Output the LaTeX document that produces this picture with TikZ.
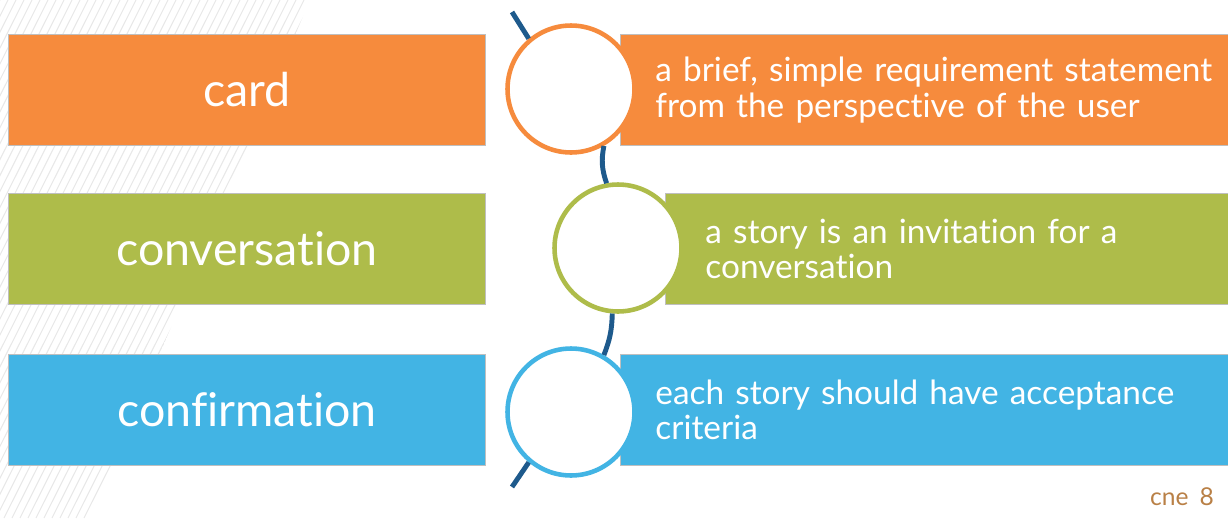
\documentclass[tikz,border=0pt]{standalone}
\usepackage{fontspec}
\setmainfont{Lato}[Ligatures=NoCommon]
\usetikzlibrary{positioning}
\definecolor{cardorange}{RGB}{246,139,61}
\definecolor{talkgreen}{RGB}{174,188,74}
\definecolor{checkblue}{RGB}{66,180,228}
\definecolor{linkblue}{RGB}{30,90,140}

\begin{document}
\begin{tikzpicture}[
  x=0.02cm, y=-0.02cm,
  namebox/.style={rectangle, draw=black!25, line width=0.5pt, minimum width=9.54cm, minimum height=2.22cm, text=white, font=\fontsize{26.5}{30}\selectfont},
  notebox/.style={rectangle, draw=black!25, line width=0.5pt, anchor=west, minimum height=2.22cm, text=white, align=left, font=\fontsize{19}{20}\selectfont, inner xsep=0.7cm, text width=11.8cm},
  ring/.style={circle, draw, line width=2.6pt, fill=white, minimum size=2.54cm, inner sep=0pt},
  link/.style={draw=linkblue, line width=2.8pt}
]
  \clip (0,0) rectangle (1228,518);

  % faint hatching behind the left column
  \begin{scope}
    \clip (0,0) -- (310,0) -- (90,518) -- (0,518) -- cycle;
    \foreach \i in {-300,-292,...,320}
      \draw[black!9, line width=0.6pt] (\i,518) -- (\i+260,0);
  \end{scope}

  \node[namebox, fill=cardorange] (card) at (247,90)  {card};
  \node[namebox, fill=talkgreen]  (talk) at (247,249) {conversation};
  \node[namebox, fill=checkblue]  (conf) at (247,410) {confirmation};

  \node[notebox, fill=cardorange] (cardnote) at (620,90)
    {a brief, simple requirement statement\\from the perspective of the user};
  \node[notebox, fill=talkgreen, inner xsep=0.8cm] (talknote) at (665,249)
    {a story is an invitation for a\\conversation};
  \node[notebox, fill=checkblue] (confnote) at (620,410)
    {each story should have acceptance\\criteria};

  % rings on the chain
  \node[ring, draw=cardorange] (cardring) at (571,89)  {};
  \node[ring, draw=talkgreen]  (talkring) at (618,248) {};
  \node[ring, draw=checkblue]  (confring) at (571,412) {};

  \coordinate (chaintop) at (512,12);
  \coordinate (chainend) at (512,487);
  \draw[link] (chaintop) -- (cardring.130);
  \draw[link] (cardring.-60) to[bend right=15] (talkring.100);
  \draw[link] (talkring.-95) to[bend left=10] (confring.60);
  \draw[link] (confring.-130) -- (chainend);

  \node[anchor=west, font=\fontsize{14}{14}\selectfont, text=orange!45!gray] (logo) at (1144,497) {cne\hspace{0.45em}8};
\end{tikzpicture}
\end{document}
